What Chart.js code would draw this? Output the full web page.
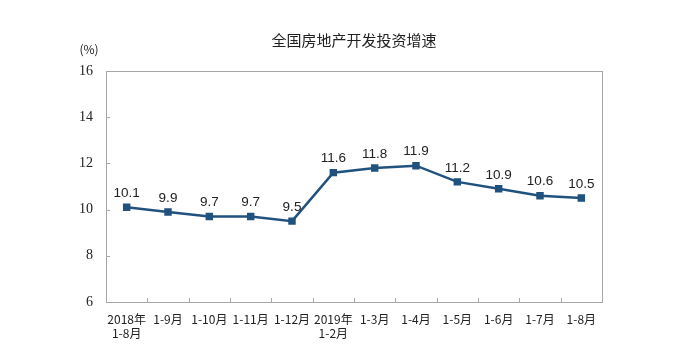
<!DOCTYPE html>
<html>
<head>
<meta charset="utf-8">
<script src="https://cdn.jsdelivr.net/npm/chart.js@4"></script>
<style>
html,body{margin:0;padding:0;background:#fff;}
#wrap{width:689px;height:360px;position:relative;}
</style>
</head>
<body>
<div id="wrap"><canvas id="c" width="689" height="360"></canvas></div>
<script>
const chartTitle = "全国房地产开发投资增速";
const unitLabel = "(%)";
const categories = [["2018年","1-8月"],"1-9月","1-10月","1-11月","1-12月",["2019年","1-2月"],"1-3月","1-4月","1-5月","1-6月","1-7月","1-8月"];
const growth = [10.1, 9.9, 9.7, 9.7, 9.5, 11.6, 11.8, 11.9, 11.2, 10.9, 10.6, 10.5];
const yTicks = [6, 8, 10, 12, 14, 16];

const lineColor = "#21527f";
const axisColor = "#a6a6a6";

const decor = {
  id: "decor",
  afterDraw(chart) {
    const ctx = chart.ctx, a = chart.chartArea;
    ctx.save();
    ctx.strokeStyle = axisColor;
    ctx.lineWidth = 1;
    ctx.strokeRect(Math.round(a.left) + 0.5, Math.round(a.top) + 0.5, Math.round(a.right - a.left), Math.round(a.bottom - a.top));
    const ys = chart.scales.y;
    ctx.beginPath();
    yTicks.forEach(v => {
      const y = Math.round(ys.getPixelForValue(v)) + 0.5;
      ctx.moveTo(a.left, y); ctx.lineTo(a.left + 4, y);
    });
    const xs = chart.scales.x;
    const n = categories.length;
    for (let i = 0; i <= n; i++) {
      const x = Math.round(xs.getPixelForValue(i - 0.5)) + 0.5;
      ctx.moveTo(x, a.bottom); ctx.lineTo(x, a.bottom - 4);
    }
    ctx.stroke();
    // title
    ctx.fillStyle = "#222";
    ctx.font = "15px 'Noto Sans CJK SC'";
    ctx.textAlign = "center";
    ctx.textBaseline = "middle";
    ctx.fillText(chartTitle, (a.left + a.right) / 2, 40);
    ctx.font = "12px 'Noto Sans CJK SC'";
    ctx.fillText(unitLabel, 89, 49);
    // data labels
    const meta = chart.getDatasetMeta(0);
    ctx.font = "13.5px 'Liberation Sans'";
    ctx.fillStyle = "#222";
    ctx.textBaseline = "middle";
    meta.data.forEach((pt, i) => {
      ctx.fillText(growth[i].toFixed(1), pt.x, pt.y - 14);
    });
    ctx.restore();
  }
};

new Chart(document.getElementById("c"), {
  type: "line",
  data: {
    labels: categories,
    datasets: [{
      data: growth,
      borderColor: lineColor,
      backgroundColor: lineColor,
      borderWidth: 2.5,
      pointStyle: "rect",
      pointRadius: 3.5,
      pointHoverRadius: 3.5,
      tension: 0
    }]
  },
  options: {
    responsive: false,
    animation: false,
    devicePixelRatio: 1,
    layout: { padding: { left: 0, right: 87, top: 71, bottom: 0 } },
    plugins: { legend: { display: false }, tooltip: { enabled: false }, title: { display: false } },
    scales: {
      x: {
        offset: true,
        grid: { display: false, drawTicks: false },
        border: { display: false },
        ticks: { color: "#222", font: { family: "'Noto Sans CJK SC'", size: 12 }, padding: 10, maxRotation: 0, autoSkip: false },
        afterFit(s) { s.height = 58; }
      },
      y: {
        min: 6, max: 16,
        afterBuildTicks(s) { s.ticks = yTicks.map(v => ({ value: v })); },
        grid: { display: false, drawTicks: false },
        border: { display: false },
        ticks: { color: "#222", font: { family: "'Liberation Serif'", size: 14 }, padding: 13 },
        afterFit(s) { s.width = 106; }
      }
    }
  },
  plugins: [decor]
});
</script>
</body>
</html>
